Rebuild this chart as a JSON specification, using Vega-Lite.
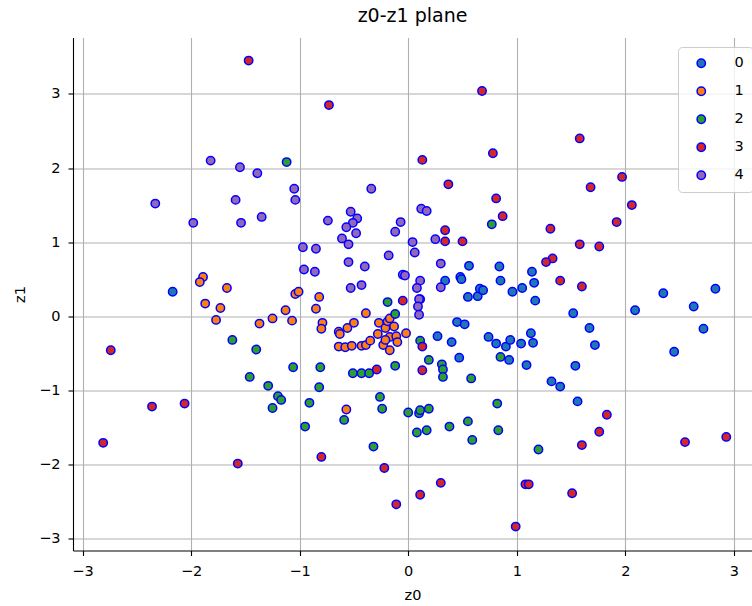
{
  "$schema": "https://vega.github.io/schema/vega-lite/v6.json",
  "width": 679,
  "height": 513,
  "autosize": {"type": "none"},
  "padding": {"left": 73, "top": 37.5, "right": 0, "bottom": 55.5},
  "title": {
    "text": "z0-z1 plane",
    "font": "DejaVu Sans",
    "fontSize": 19,
    "fontWeight": "normal",
    "color": "black",
    "offset": 8,
    "dy": 11.5,
    "baseline": "alphabetic"
  },
  "config": {
    "view": {"stroke": null},
    "font": "DejaVu Sans",
    "axis": {
      "domainColor": "black",
      "domainWidth": 1.1,
      "tickColor": "black",
      "tickSize": 5,
      "tickWidth": 1.1,
      "labelFont": "DejaVu Sans",
      "labelFontSize": 14.5,
      "labelColor": "black",
      "labelFlush": false,
      "labelOverlap": false,
      "titleFont": "DejaVu Sans",
      "titleFontSize": 14.5,
      "titleFontWeight": "normal",
      "titleColor": "black",
      "gridColor": "#b0b0b0",
      "gridWidth": 1.1,
      "gridOpacity": 1
    }
  },
  "layer": [
    {
      "data": {
        "values": [
          {"z0": -2.17, "z1": 0.33, "label": "0"},
          {"z0": 0.34, "z1": 0.48, "label": "0"},
          {"z0": 0.48, "z1": 0.53, "label": "0"},
          {"z0": 0.49, "z1": 0.50, "label": "0"},
          {"z0": 0.56, "z1": 0.68, "label": "0"},
          {"z0": 0.84, "z1": 0.67, "label": "0"},
          {"z0": 0.85, "z1": 0.48, "label": "0"},
          {"z0": 0.55, "z1": 0.26, "label": "0"},
          {"z0": 0.64, "z1": 0.27, "label": "0"},
          {"z0": 0.66, "z1": 0.37, "label": "0"},
          {"z0": 0.69, "z1": 0.35, "label": "0"},
          {"z0": 0.96, "z1": 0.33, "label": "0"},
          {"z0": 1.05, "z1": 0.38, "label": "0"},
          {"z0": 1.14, "z1": 0.60, "label": "0"},
          {"z0": 1.16, "z1": 0.45, "label": "0"},
          {"z0": 1.17, "z1": 0.21, "label": "0"},
          {"z0": 1.52, "z1": 0.04, "label": "0"},
          {"z0": 2.09, "z1": 0.08, "label": "0"},
          {"z0": 2.35, "z1": 0.31, "label": "0"},
          {"z0": 2.63, "z1": 0.13, "label": "0"},
          {"z0": 2.83, "z1": 0.37, "label": "0"},
          {"z0": 2.72, "z1": -0.17, "label": "0"},
          {"z0": 2.45, "z1": -0.48, "label": "0"},
          {"z0": 1.67, "z1": -0.16, "label": "0"},
          {"z0": 1.72, "z1": -0.39, "label": "0"},
          {"z0": 1.13, "z1": -0.23, "label": "0"},
          {"z0": 1.15, "z1": -0.36, "label": "0"},
          {"z0": 1.09, "z1": -0.66, "label": "0"},
          {"z0": 1.54, "z1": -0.67, "label": "0"},
          {"z0": 1.32, "z1": -0.88, "label": "0"},
          {"z0": 1.40, "z1": -0.95, "label": "0"},
          {"z0": 1.56, "z1": -1.15, "label": "0"},
          {"z0": 0.45, "z1": -0.08, "label": "0"},
          {"z0": 0.52, "z1": -0.11, "label": "0"},
          {"z0": 0.27, "z1": -0.27, "label": "0"},
          {"z0": 0.40, "z1": -0.35, "label": "0"},
          {"z0": 0.74, "z1": -0.28, "label": "0"},
          {"z0": 0.81, "z1": -0.37, "label": "0"},
          {"z0": 0.90, "z1": -0.41, "label": "0"},
          {"z0": 0.94, "z1": -0.32, "label": "0"},
          {"z0": 1.04, "z1": -0.37, "label": "0"},
          {"z0": 0.93, "z1": -0.59, "label": "0"},
          {"z0": 0.47, "z1": -0.56, "label": "0"},

          {"z0": -1.89, "z1": 0.53, "label": "1"},
          {"z0": -1.92, "z1": 0.46, "label": "1"},
          {"z0": -1.67, "z1": 0.38, "label": "1"},
          {"z0": -1.87, "z1": 0.17, "label": "1"},
          {"z0": -1.73, "z1": 0.11, "label": "1"},
          {"z0": -1.77, "z1": -0.05, "label": "1"},
          {"z0": -1.37, "z1": -0.10, "label": "1"},
          {"z0": -1.25, "z1": -0.03, "label": "1"},
          {"z0": -1.13, "z1": 0.08, "label": "1"},
          {"z0": -1.07, "z1": -0.06, "label": "1"},
          {"z0": -1.04, "z1": 0.30, "label": "1"},
          {"z0": -1.01, "z1": 0.33, "label": "1"},
          {"z0": -0.82, "z1": 0.26, "label": "1"},
          {"z0": -0.85, "z1": 0.10, "label": "1"},
          {"z0": -0.79, "z1": -0.09, "label": "1"},
          {"z0": -0.80, "z1": -0.17, "label": "1"},
          {"z0": -0.64, "z1": -0.21, "label": "1"},
          {"z0": -0.63, "z1": -0.24, "label": "1"},
          {"z0": -0.56, "z1": -0.16, "label": "1"},
          {"z0": -0.50, "z1": -0.09, "label": "1"},
          {"z0": -0.39, "z1": 0.04, "label": "1"},
          {"z0": -0.64, "z1": -0.41, "label": "1"},
          {"z0": -0.58, "z1": -0.42, "label": "1"},
          {"z0": -0.52, "z1": -0.40, "label": "1"},
          {"z0": -0.43, "z1": -0.40, "label": "1"},
          {"z0": -0.39, "z1": -0.39, "label": "1"},
          {"z0": -0.35, "z1": -0.33, "label": "1"},
          {"z0": -0.27, "z1": -0.09, "label": "1"},
          {"z0": -0.28, "z1": -0.24, "label": "1"},
          {"z0": -0.21, "z1": -0.16, "label": "1"},
          {"z0": -0.19, "z1": -0.07, "label": "1"},
          {"z0": -0.17, "z1": -0.03, "label": "1"},
          {"z0": -0.13, "z1": -0.14, "label": "1"},
          {"z0": -0.17, "z1": -0.28, "label": "1"},
          {"z0": -0.11, "z1": -0.27, "label": "1"},
          {"z0": -0.23, "z1": -0.39, "label": "1"},
          {"z0": -0.21, "z1": -0.32, "label": "1"},
          {"z0": -0.10, "z1": -0.35, "label": "1"},
          {"z0": -0.17, "z1": -0.46, "label": "1"},
          {"z0": -0.02, "z1": -0.23, "label": "1"},
          {"z0": -0.57, "z1": -1.26, "label": "1"},

          {"z0": -1.12, "z1": 2.08, "label": "2"},
          {"z0": -1.62, "z1": -0.32, "label": "2"},
          {"z0": -1.40, "z1": -0.45, "label": "2"},
          {"z0": -1.06, "z1": -0.69, "label": "2"},
          {"z0": -1.46, "z1": -0.82, "label": "2"},
          {"z0": -1.29, "z1": -0.94, "label": "2"},
          {"z0": -1.20, "z1": -1.08, "label": "2"},
          {"z0": -1.17, "z1": -1.13, "label": "2"},
          {"z0": -1.25, "z1": -1.24, "label": "2"},
          {"z0": -0.95, "z1": -1.49, "label": "2"},
          {"z0": -0.82, "z1": -0.96, "label": "2"},
          {"z0": -0.91, "z1": -1.17, "label": "2"},
          {"z0": -0.59, "z1": -1.40, "label": "2"},
          {"z0": -0.26, "z1": -1.09, "label": "2"},
          {"z0": -0.24, "z1": -1.25, "label": "2"},
          {"z0": -0.32, "z1": -1.76, "label": "2"},
          {"z0": 0.00, "z1": -1.30, "label": "2"},
          {"z0": 0.10, "z1": -1.31, "label": "2"},
          {"z0": 0.11, "z1": -1.27, "label": "2"},
          {"z0": 0.19, "z1": -1.25, "label": "2"},
          {"z0": 0.08, "z1": -1.57, "label": "2"},
          {"z0": 0.17, "z1": -1.54, "label": "2"},
          {"z0": 0.38, "z1": -1.49, "label": "2"},
          {"z0": 0.55, "z1": -1.42, "label": "2"},
          {"z0": 0.59, "z1": -1.67, "label": "2"},
          {"z0": 0.82, "z1": -1.18, "label": "2"},
          {"z0": 0.83, "z1": -1.54, "label": "2"},
          {"z0": 1.20, "z1": -1.80, "label": "2"},
          {"z0": 0.77, "z1": 1.24, "label": "2"},
          {"z0": 0.11, "z1": 0.23, "label": "2"},
          {"z0": 0.85, "z1": -0.55, "label": "2"},
          {"z0": 0.31, "z1": -0.65, "label": "2"},
          {"z0": 0.32, "z1": -0.72, "label": "2"},
          {"z0": 0.32, "z1": -0.82, "label": "2"},
          {"z0": 0.58, "z1": -0.84, "label": "2"},
          {"z0": 0.19, "z1": -0.59, "label": "2"},
          {"z0": 0.11, "z1": -0.33, "label": "2"},
          {"z0": -0.19, "z1": 0.19, "label": "2"},
          {"z0": -0.12, "z1": 0.03, "label": "2"},
          {"z0": -0.12, "z1": -0.67, "label": "2"},
          {"z0": -0.51, "z1": -0.77, "label": "2"},
          {"z0": -0.43, "z1": -0.77, "label": "2"},
          {"z0": -0.36, "z1": -0.77, "label": "2"},
          {"z0": -0.81, "z1": -0.69, "label": "2"},

          {"z0": -1.47, "z1": 3.45, "label": "3"},
          {"z0": -2.74, "z1": -0.46, "label": "3"},
          {"z0": -2.36, "z1": -1.22, "label": "3"},
          {"z0": -2.06, "z1": -1.18, "label": "3"},
          {"z0": -2.81, "z1": -1.71, "label": "3"},
          {"z0": -1.57, "z1": -1.99, "label": "3"},
          {"z0": -0.80, "z1": -1.90, "label": "3"},
          {"z0": -0.22, "z1": -2.05, "label": "3"},
          {"z0": -0.11, "z1": -2.54, "label": "3"},
          {"z0": 0.11, "z1": -2.41, "label": "3"},
          {"z0": 0.30, "z1": -2.25, "label": "3"},
          {"z0": 0.99, "z1": -2.84, "label": "3"},
          {"z0": 1.08, "z1": -2.27, "label": "3"},
          {"z0": 1.11, "z1": -2.27, "label": "3"},
          {"z0": 1.83, "z1": -1.33, "label": "3"},
          {"z0": 1.76, "z1": -1.56, "label": "3"},
          {"z0": 1.60, "z1": -1.74, "label": "3"},
          {"z0": 1.51, "z1": -2.39, "label": "3"},
          {"z0": 2.55, "z1": -1.70, "label": "3"},
          {"z0": 2.93, "z1": -1.63, "label": "3"},
          {"z0": 1.31, "z1": 1.18, "label": "3"},
          {"z0": 1.92, "z1": 1.27, "label": "3"},
          {"z0": 1.58, "z1": 0.97, "label": "3"},
          {"z0": 1.76, "z1": 0.94, "label": "3"},
          {"z0": 1.33, "z1": 0.78, "label": "3"},
          {"z0": 1.27, "z1": 0.73, "label": "3"},
          {"z0": 1.40, "z1": 0.48, "label": "3"},
          {"z0": 1.60, "z1": 0.40, "label": "3"},
          {"z0": 1.58, "z1": 2.40, "label": "3"},
          {"z0": 1.97, "z1": 1.88, "label": "3"},
          {"z0": 1.68, "z1": 1.74, "label": "3"},
          {"z0": 2.06, "z1": 1.50, "label": "3"},
          {"z0": -0.73, "z1": 2.85, "label": "3"},
          {"z0": 0.68, "z1": 3.04, "label": "3"},
          {"z0": 0.13, "z1": 2.11, "label": "3"},
          {"z0": 0.78, "z1": 2.20, "label": "3"},
          {"z0": 0.37, "z1": 1.78, "label": "3"},
          {"z0": 0.81, "z1": 1.59, "label": "3"},
          {"z0": 0.87, "z1": 1.35, "label": "3"},
          {"z0": 0.34, "z1": 1.16, "label": "3"},
          {"z0": 0.34, "z1": 1.01, "label": "3"},
          {"z0": 0.50, "z1": 1.01, "label": "3"},
          {"z0": 0.13, "z1": -0.41, "label": "3"},
          {"z0": 0.13, "z1": -0.73, "label": "3"},
          {"z0": -0.05, "z1": 0.21, "label": "3"},
          {"z0": -0.29, "z1": -0.72, "label": "3"},

          {"z0": -1.82, "z1": 2.10, "label": "4"},
          {"z0": -1.55, "z1": 2.01, "label": "4"},
          {"z0": -1.39, "z1": 1.93, "label": "4"},
          {"z0": -1.05, "z1": 1.72, "label": "4"},
          {"z0": -1.04, "z1": 1.57, "label": "4"},
          {"z0": -2.33, "z1": 1.52, "label": "4"},
          {"z0": -1.59, "z1": 1.57, "label": "4"},
          {"z0": -1.98, "z1": 1.26, "label": "4"},
          {"z0": -1.54, "z1": 1.26, "label": "4"},
          {"z0": -1.35, "z1": 1.34, "label": "4"},
          {"z0": -0.97, "z1": 0.93, "label": "4"},
          {"z0": -0.96, "z1": 0.63, "label": "4"},
          {"z0": -0.85, "z1": 0.91, "label": "4"},
          {"z0": -0.86, "z1": 0.60, "label": "4"},
          {"z0": -0.74, "z1": 1.29, "label": "4"},
          {"z0": -0.53, "z1": 1.41, "label": "4"},
          {"z0": -0.47, "z1": 1.32, "label": "4"},
          {"z0": -0.51, "z1": 1.26, "label": "4"},
          {"z0": -0.57, "z1": 1.20, "label": "4"},
          {"z0": -0.48, "z1": 1.12, "label": "4"},
          {"z0": -0.61, "z1": 1.05, "label": "4"},
          {"z0": -0.55, "z1": 0.97, "label": "4"},
          {"z0": -0.07, "z1": 1.27, "label": "4"},
          {"z0": -0.12, "z1": 1.14, "label": "4"},
          {"z0": 0.12, "z1": 1.45, "label": "4"},
          {"z0": 0.17, "z1": 1.42, "label": "4"},
          {"z0": -0.34, "z1": 1.72, "label": "4"},
          {"z0": 0.25, "z1": 1.04, "label": "4"},
          {"z0": 0.04, "z1": 1.00, "label": "4"},
          {"z0": 0.06, "z1": 0.86, "label": "4"},
          {"z0": -0.18, "z1": 0.82, "label": "4"},
          {"z0": -0.55, "z1": 0.73, "label": "4"},
          {"z0": -0.40, "z1": 0.67, "label": "4"},
          {"z0": 0.30, "z1": 0.71, "label": "4"},
          {"z0": -0.05, "z1": 0.56, "label": "4"},
          {"z0": -0.03, "z1": 0.55, "label": "4"},
          {"z0": 0.11, "z1": 0.48, "label": "4"},
          {"z0": 0.08, "z1": 0.38, "label": "4"},
          {"z0": -0.53, "z1": 0.38, "label": "4"},
          {"z0": -0.43, "z1": 0.42, "label": "4"},
          {"z0": 0.30, "z1": 0.39, "label": "4"},
          {"z0": 0.10, "z1": 0.23, "label": "4"},
          {"z0": 0.09, "z1": 0.13, "label": "4"},
          {"z0": 0.10, "z1": 0.02, "label": "4"}
        ]
      },
      "mark": {
        "type": "point",
        "filled": true,
        "size": 70,
        "stroke": "blue",
        "strokeWidth": 1.5,
        "opacity": 1
      },
      "encoding": {
        "x": {
          "field": "z0",
          "type": "quantitative",
          "scale": {"domain": [-3.088, 3.167], "nice": false, "zero": false},
          "axis": {
            "title": "z0",
            "values": [-3, -2, -1, 0, 1, 2, 3],
            "format": "d",
            "labelPadding": 8.5,
            "titlePadding": 11
          }
        },
        "y": {
          "field": "z1",
          "type": "quantitative",
          "scale": {"domain": [-3.163, 3.762], "nice": false, "zero": false},
          "axis": {
            "title": "z1",
            "values": [-3, -2, -1, 0, 1, 2, 3],
            "format": "d",
            "labelPadding": 8,
            "titlePadding": 11
          }
        },
        "color": {
          "field": "label",
          "type": "nominal",
          "scale": {
            "domain": ["0", "1", "2", "3", "4"],
            "range": ["#1f77b4", "#ff7f0e", "#2ca02c", "#d62728", "#9467bd"]
          },
          "legend": {
            "title": null,
            "orient": "none",
            "legendX": 605,
            "legendY": 9.5,
            "fillColor": "rgba(255,255,255,0.8)",
            "strokeColor": "#cccccc",
            "cornerRadius": 4,
            "padding": 9,
            "symbolType": "circle",
            "symbolSize": 70,
            "symbolStrokeColor": "blue",
            "symbolStrokeWidth": 1.5,
            "symbolOpacity": 1,
            "symbolOffset": 7,
            "labelFont": "DejaVu Sans",
            "labelFontSize": 14.5,
            "labelColor": "black",
            "labelOffset": 26,
            "labelExpr": "datum.label + '\u00a0\u00a0\u00a0\u00a0\u00a0'",
            "rowPadding": 12
          }
        }
      }
    },
    {
      "mark": {"type": "rule", "color": "black", "strokeWidth": 1.1},
      "encoding": {"y": {"datum": 3.762}}
    }
  ]
}
